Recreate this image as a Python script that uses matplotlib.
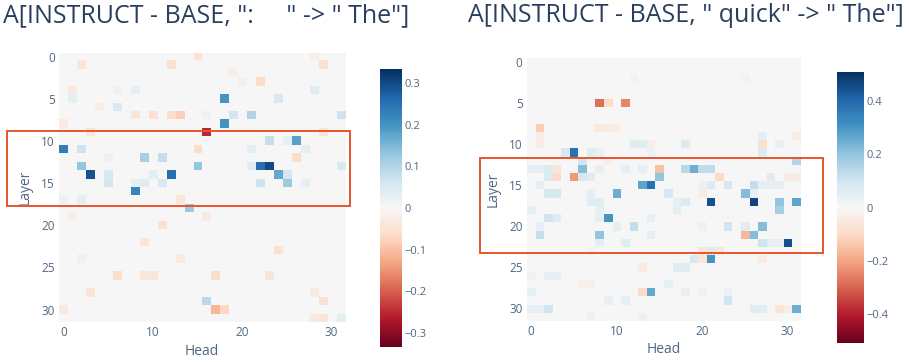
import numpy as np
import matplotlib
matplotlib.use("Agg")
import matplotlib.pyplot as plt
from matplotlib.patches import Rectangle

plt.rcParams['font.family'] = ['Open Sans', 'DejaVu Sans']

N_LAYERS = 32
N_HEADS = 32

left_title = 'A[INSTRUCT - BASE, ":     " -> " The"]'
right_title = 'A[INSTRUCT - BASE, " quick" -> " The"]'

# (layer, head, value) for the left panel
left_layers = [0, 0, 1, 1, 1, 2, 3, 3, 4, 4, 4, 4, 5, 5, 5, 6, 6,
               7, 7, 7, 7, 7, 7, 7, 7, 8, 8, 9, 9, 9,
               10, 10, 10, 11, 11, 11, 11, 11, 12, 12, 12, 12,
               13, 13, 13, 13, 13, 13, 14, 14, 14, 14, 14, 14,
               15, 15, 15, 15, 15, 15, 15, 16, 17, 17, 17, 18, 19, 19,
               20, 22, 23, 24, 24, 26, 26, 26, 26, 26, 28, 28, 29, 29,
               30, 30, 30, 31, 31, 31]
left_heads = [15, 28, 2, 12, 29, 19, 22, 20, 1, 28, 6, 8, 18, 24, 1, 6, 4,
              8, 10, 12, 13, 19, 21, 31, 16, 18, 0, 16, 3, 29,
              23, 26, 25, 0, 2, 15, 21, 27, 9, 11, 26, 5,
              2, 15, 22, 23, 31, 21, 3, 12, 24, 5, 10, 25,
              5, 9, 11, 22, 25, 27, 8, 8, 2, 0, 13, 14, 16, 1,
              11, 9, 24, 13, 2, 6, 9, 10, 17, 23, 3, 28, 16, 29,
              17, 18, 0, 29, 28, 31]
left_values = [-0.05, -0.02, -0.04, -0.05, -0.05, -0.02, -0.06, -0.02, -0.03, 0.04, 0.02, 0.03, 0.20, 0.05, 0.03, 0.05, -0.02,
               -0.04, -0.05, -0.06, -0.08, 0.06, 0.10, 0.07, 0.02, 0.20, -0.03, -0.25, -0.04, -0.04,
               0.08, 0.18, 0.03, 0.23, 0.07, -0.06, 0.03, 0.03, 0.11, 0.08, -0.06, 0.02,
               0.13, 0.13, 0.25, 0.30, 0.05, 0.04, 0.29, 0.25, 0.17, 0.05, 0.03, 0.06,
               0.06, 0.04, 0.05, 0.07, 0.12, 0.03, 0.03, 0.22, 0.03, 0.02, -0.04, 0.12, -0.03, -0.02,
               -0.05, -0.04, -0.05, -0.03, -0.02, -0.06, -0.04, -0.04, -0.06, -0.04, -0.04, -0.03, 0.09, -0.05,
               -0.11, -0.07, -0.03, -0.04, -0.03, 0.03]

# (layer, head, value) for the right panel
right_layers = [2, 2, 5, 5, 5, 8, 8, 8, 8, 9, 9, 9,
                10, 10, 10, 10, 10, 10, 10, 11, 11, 11, 11, 11, 11, 12, 12, 12,
                13, 13, 13, 13, 13, 13, 13, 13, 13, 13, 13, 13, 13,
                14, 14, 14, 14, 14, 14, 14, 14, 14, 14,
                15, 15, 15, 15, 15, 15, 15, 15, 15, 15,
                16, 16, 16, 16, 16, 16, 16, 16,
                17, 17, 17, 17, 17, 17, 17, 17,
                18, 18, 18, 18, 19, 19, 19, 19, 19,
                20, 20, 20, 20, 20, 20, 20, 21, 21, 21, 21, 21,
                22, 22, 22, 22, 22, 22, 23, 23, 23, 23, 24, 24, 24, 24,
                25, 25, 25, 26, 26, 26, 27, 27, 27,
                28, 28, 28, 28, 28, 28, 29, 29, 29,
                30, 30, 30, 30, 30, 30, 30, 30, 31, 31]
right_heads = [12, 25, 8, 9, 11, 1, 8, 9, 10, 1, 31, 27,
               12, 13, 1, 14, 18, 27, 29, 5, 4, 7, 8, 14, 27, 6, 31, 9,
               0, 1, 2, 3, 6, 8, 11, 13, 15, 18, 19, 20, 21,
               2, 3, 5, 6, 7, 15, 22, 28, 30, 31,
               1, 13, 14, 20, 21, 23, 26, 27, 28, 29,
               2, 3, 10, 16, 25, 7, 20, 26,
               21, 26, 29, 31, 7, 8, 18, 17,
               0, 29, 17, 8, 2, 3, 9, 8, 14,
               1, 10, 12, 23, 25, 27, 20, 1, 8, 14, 25, 26,
               8, 11, 30, 27, 29, 28, 20, 22, 21, 7, 21, 19, 20, 27,
               17, 18, 13, 0, 2, 3, 16, 6, 7,
               14, 13, 0, 18, 20, 23, 23, 9, 11,
               31, 0, 1, 2, 26, 27, 29, 30, 7, 13]
right_values = [-0.02, -0.02, -0.28, -0.10, -0.25, -0.13, -0.05, -0.05, -0.03, -0.04, -0.03, 0.05,
                0.06, 0.06, -0.04, -0.03, 0.07, -0.08, 0.04, 0.38, 0.08, 0.06, 0.04, 0.03, 0.07, 0.10, 0.15, -0.03,
                0.05, 0.05, 0.07, -0.06, 0.22, 0.04, 0.05, 0.04, -0.15, 0.14, 0.25, 0.13, 0.13,
                0.07, -0.10, -0.22, 0.08, 0.06, 0.20, -0.10, 0.06, -0.04, -0.04,
                0.04, 0.27, 0.38, 0.03, 0.07, 0.08, 0.12, 0.05, 0.04, 0.04,
                0.08, 0.08, 0.25, 0.08, 0.22, 0.05, -0.04, 0.04,
                0.45, 0.47, 0.20, 0.27, 0.06, 0.06, 0.07, 0.04,
                0.05, 0.17, 0.05, 0.04, 0.10, 0.07, 0.30, 0.05, 0.04,
                0.04, 0.05, 0.12, 0.10, 0.06, 0.22, 0.03, 0.12, 0.20, 0.05, -0.17, 0.22,
                0.05, 0.06, 0.45, 0.10, 0.04, 0.04, -0.06, -0.06, 0.07, -0.02, 0.30, 0.08, -0.06, -0.04,
                0.06, 0.06, -0.04, 0.03, 0.05, 0.04, 0.05, -0.03, -0.03,
                0.26, -0.10, 0.05, 0.04, 0.03, 0.03, 0.10, 0.04, 0.04,
                0.25, 0.04, 0.04, 0.10, 0.06, 0.06, -0.07, -0.03, 0.03, 0.03]

left_range = 0.333
right_range = 0.51
left_cbar_ticks = [-0.3, -0.2, -0.1, 0, 0.1, 0.2, 0.3]
right_cbar_ticks = [-0.4, -0.2, 0, 0.2, 0.4]
x_ticks = [0, 10, 20, 30]
y_ticks = [0, 5, 10, 15, 20, 25, 30]

TEXT = '#2a3f5f'
TICK = '#506784'
BOX = '#e8552d'


def build(layers, heads, values):
    m = np.zeros((N_LAYERS, N_HEADS))
    for l, h, v in zip(layers, heads, values):
        m[l, h] = v
    return m


def fmt(v):
    if abs(v) < 1e-9:
        return '0'
    s = f'{v:g}'
    return s.replace('-', '\u2212')


fig = plt.figure(figsize=(9.09, 3.62), dpi=100)
fig.patch.set_facecolor('white')

panels = [
    dict(data=build(left_layers, left_heads, left_values), rng=left_range,
         ticks=left_cbar_ticks, title=left_title,
         ax=[58.8, 52.5, 345, 322.2], cax=[380, 69, 402, 347],
         box=[7, 131, 350, 206], tx=3),
    dict(data=build(right_layers, right_heads, right_values), rng=right_range,
         ticks=right_cbar_ticks, title=right_title,
         ax=[526.7, 57.6, 800, 320.6], cax=[836.7, 71.7, 864, 343.3],
         box=[480, 158, 823, 253], tx=468),
]

W, H = 909.0, 362.0


def to_fig(x0, y0, x1, y1):
    return [x0 / W, 1 - y1 / H, (x1 - x0) / W, (y1 - y0) / H]


for p in panels:
    ax = fig.add_axes(to_fig(*p['ax']))
    im = ax.imshow(p['data'], cmap='RdBu', vmin=-p['rng'], vmax=p['rng'],
                   aspect='auto', interpolation='nearest')
    ax.set_xticks(x_ticks)
    ax.set_yticks(y_ticks)
    ax.tick_params(length=0, labelsize=8.5, labelcolor=TICK, pad=3)
    for s in ax.spines.values():
        s.set_visible(False)
    ax.set_xlabel('Head', fontsize=10, color=TICK, labelpad=3)
    ax.set_ylabel('Layer', fontsize=10, color=TICK, labelpad=6)

    cax = fig.add_axes(to_fig(*p['cax']))
    cb = fig.colorbar(im, cax=cax, ticks=p['ticks'])
    cb.outline.set_visible(False)
    cb.ax.set_yticklabels([fmt(t) for t in p['ticks']])
    cb.ax.tick_params(length=0, labelsize=8, labelcolor=TICK, pad=2)

    fig.text(p['tx'] / W, 1 - 3 / H, p['title'], fontsize=18.0, color=TEXT,
             ha='left', va='top')

    bx0, by0, bx1, by1 = p['box']
    fig.patches.append(Rectangle((bx0 / W, 1 - by1 / H), (bx1 - bx0) / W, (by1 - by0) / H,
                                 transform=fig.transFigure, fill=False,
                                 edgecolor=BOX, linewidth=1.4))

fig.savefig('out.png', dpi=100, facecolor='white')
